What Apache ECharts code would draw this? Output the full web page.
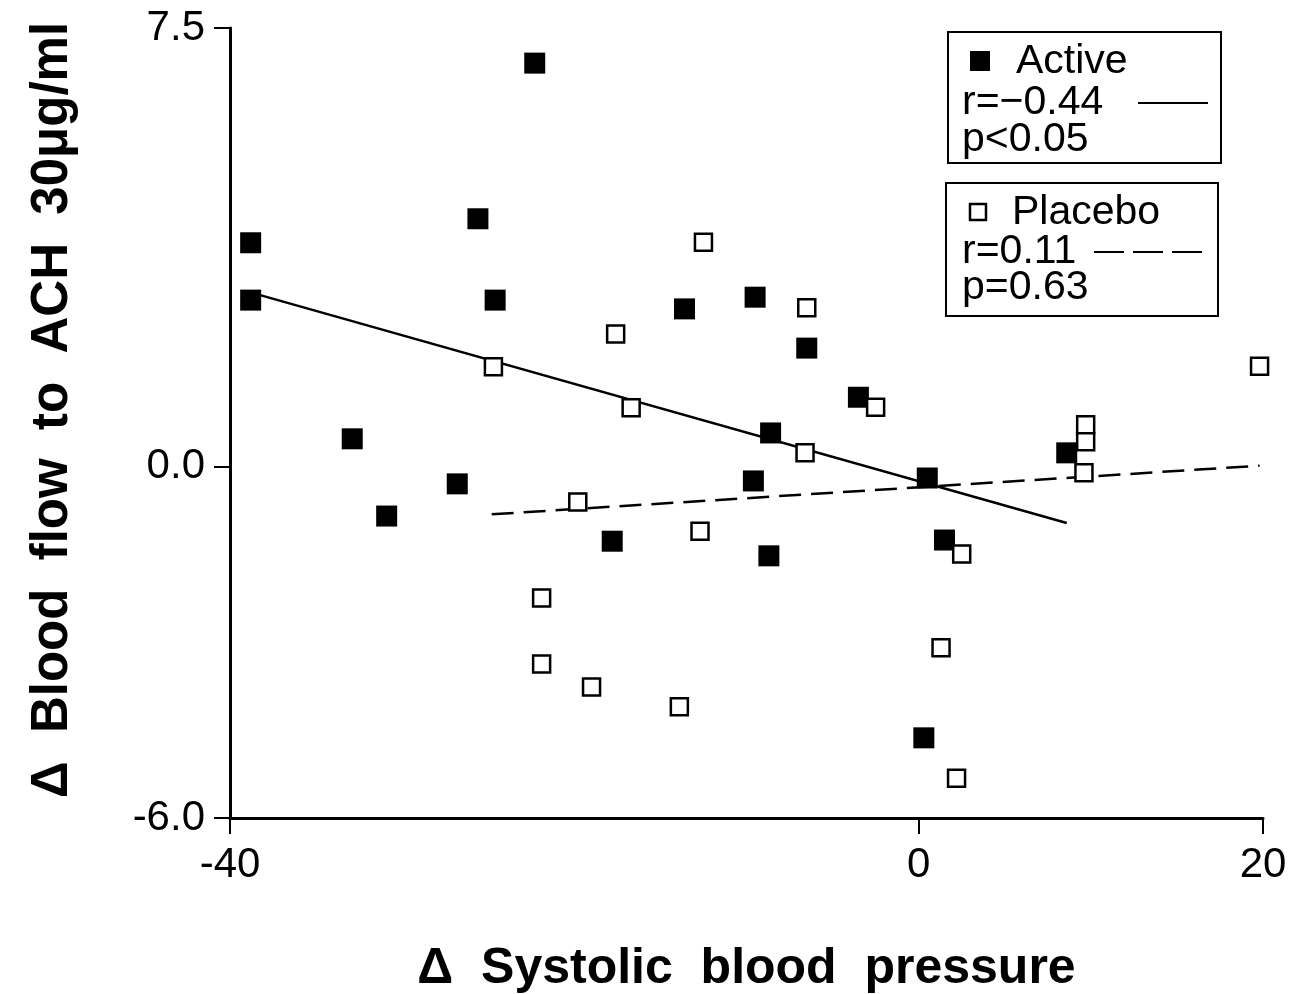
<!DOCTYPE html>
<html>
<head>
<meta charset="utf-8">
<title>Blood flow vs systolic blood pressure</title>
<script src="https://cdn.jsdelivr.net/npm/echarts@6.0.0/dist/echarts.min.js"></script>
<style>
  html, body { margin: 0; padding: 0; background: #fff; }
  #main { width: 1309px; height: 994px; }
</style>
</head>
<body>
<div id="main"></div>
<script>
// Active group (filled squares)
var active_x = [-38.8, -38.8, -22.3, -25.6, -24.6, -32.9, -30.9, -26.8, -17.8, -13.6,
  -9.5, -6.5, -8.6, -9.6, -8.7, -3.5, 0.5, 1.5, 0.3, 8.6];
var active_y = [3.83, 2.85, 6.90, 4.24, 2.85, 0.48, -0.84, -0.29, -1.27, 2.70,
  2.90, 2.03, 0.58, -0.24, -1.52, 1.19, -0.19, -1.25, -4.63, 0.24];

// Placebo group (open squares)
var placebo_x = [-24.7, -17.6, -16.7, -12.5, -6.5, -6.6, -2.5, -19.8, -12.7, -21.9,
  -21.9, -19.0, -13.9, 2.5, 1.3, 2.2, 9.7, 9.7, 9.6, 19.8];
var placebo_y = [1.71, 2.27, 1.01, 3.84, 2.72, 0.24, 1.02, -0.60, -1.10, -2.24,
  -3.37, -3.76, -4.10, -1.49, -3.09, -5.32, 0.72, 0.43, -0.10, 1.72];

// regression lines (end points)
var active_fit_x = [-38.3, 8.6];
var active_fit_y = [2.94, -0.96];
var placebo_fit_x = [-24.8, 19.8];
var placebo_fit_y = [-0.81, 0.02];

var x_ticks = [-40, 0, 20];
var y_ticks = [-6.0, 0.0, 7.5];

var active_stats = ['r=\u22120.44', 'p<0.05'];
var placebo_stats = ['r=0.11', 'p=0.63'];

function pairs(xs, ys) {
  return xs.map(function (x, i) { return [x, ys[i]]; });
}

var font = "'Liberation Sans', Arial, Helvetica, sans-serif";
var text_font = '41px ' + font;

var chart = echarts.init(document.getElementById('main'));
var option = {
  backgroundColor: '#fff',
  animation: false,
  grid: { left: 230, right: 46, top: 28, bottom: 176, outerBoundsMode: 'none' },
  xAxis: {
    type: 'value',
    min: -40,
    max: 20,
    name: '\u0394  Systolic  blood  pressure',
    nameLocation: 'middle',
    nameGap: 126,
    nameTextStyle: { fontFamily: font, fontSize: 50, fontWeight: 'bold', color: '#000' },
    axisLine: { onZero: false, lineStyle: { color: '#000', width: 3 } },
    axisTick: { show: true, length: 16, customValues: x_ticks, lineStyle: { color: '#000', width: 2 } },
    axisLabel: { customValues: x_ticks, margin: 26, fontFamily: font, fontSize: 42, color: '#000' },
    splitLine: { show: false }
  },
  yAxis: {
    type: 'value',
    min: -6,
    max: 7.5,
    name: '\u0394  Blood  flow  to  ACH  30\u03bcg/ml',
    nameLocation: 'middle',
    nameGap: 152,
    nameRotate: 90,
    nameTextStyle: { fontFamily: font, fontSize: 51, fontWeight: 'bold', color: '#000', padding: [0, 0, 0, 26] },
    axisLine: { show: true, onZero: false, lineStyle: { color: '#000', width: 3 } },
    axisTick: { show: true, length: 16, customValues: y_ticks, lineStyle: { color: '#000', width: 2 } },
    axisLabel: {
      customValues: y_ticks, margin: 25, fontFamily: font, fontSize: 42, color: '#000',
      formatter: function (v) { return v.toFixed(1); }
    },
    splitLine: { show: false }
  },
  series: [
    {
      name: 'Active fit',
      type: 'line',
      data: pairs(active_fit_x, active_fit_y),
      symbol: 'none',
      lineStyle: { color: '#000', width: 2.5 },
      z: 2
    },
    {
      name: 'Placebo fit',
      type: 'line',
      data: pairs(placebo_fit_x, placebo_fit_y),
      symbol: 'none',
      lineStyle: { color: '#000', width: 2.5, type: [22, 10] },
      z: 2
    },
    {
      name: 'Active',
      type: 'scatter',
      data: pairs(active_x, active_y),
      symbol: 'rect',
      symbolSize: 21,
      itemStyle: { color: '#000', opacity: 1 },
      z: 3
    },
    {
      name: 'Placebo',
      type: 'scatter',
      data: pairs(placebo_x, placebo_y),
      symbol: 'rect',
      symbolSize: 17,
      itemStyle: { color: '#fff', borderColor: '#000', borderWidth: 2.5, opacity: 1 },
      z: 4
    }
  ],
  // legend boxes drawn by hand, the layout is not a standard legend
  graphic: [
    { type: 'rect', shape: { x: 948, y: 32, width: 273, height: 131 }, style: { fill: '#fff', stroke: '#000', lineWidth: 2 } },
    { type: 'rect', shape: { x: 970, y: 51, width: 20, height: 20 }, style: { fill: '#000' } },
    { type: 'text', x: 1016, y: 62, style: { text: 'Active', font: text_font, fill: '#000', verticalAlign: 'middle' } },
    { type: 'text', x: 962, y: 103, style: { text: active_stats[0], font: text_font, fill: '#000', verticalAlign: 'middle' } },
    { type: 'line', shape: { x1: 1138, y1: 103, x2: 1208, y2: 103 }, style: { stroke: '#000', lineWidth: 2 } },
    { type: 'text', x: 962, y: 140, style: { text: active_stats[1], font: text_font, fill: '#000', verticalAlign: 'middle' } },

    { type: 'rect', shape: { x: 946, y: 183, width: 272, height: 133 }, style: { fill: '#fff', stroke: '#000', lineWidth: 2 } },
    { type: 'rect', shape: { x: 970, y: 204, width: 16, height: 16 }, style: { fill: '#fff', stroke: '#000', lineWidth: 2.5 } },
    { type: 'text', x: 1012, y: 213, style: { text: 'Placebo', font: text_font, fill: '#000', verticalAlign: 'middle' } },
    { type: 'text', x: 962, y: 252, style: { text: placebo_stats[0], font: text_font, fill: '#000', verticalAlign: 'middle' } },
    { type: 'line', shape: { x1: 1094, y1: 252, x2: 1203, y2: 252 }, style: { stroke: '#000', lineWidth: 2, lineDash: [30, 9] } },
    { type: 'text', x: 962, y: 288, style: { text: placebo_stats[1], font: text_font, fill: '#000', verticalAlign: 'middle' } }
  ]
};
chart.setOption(option);
</script>
</body>
</html>
